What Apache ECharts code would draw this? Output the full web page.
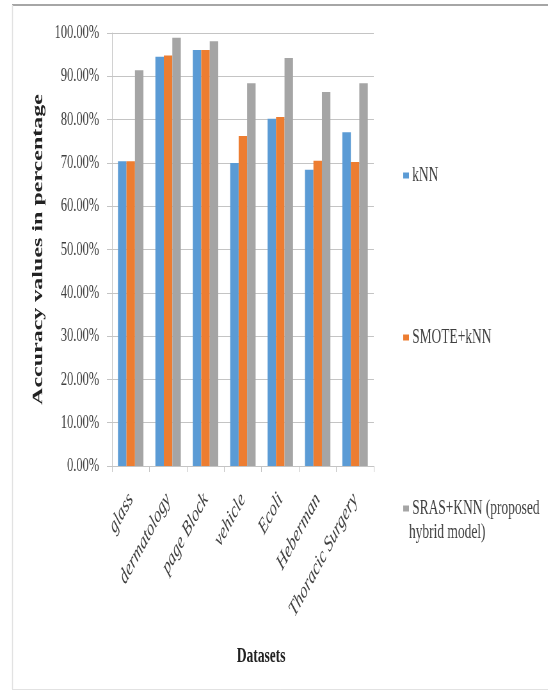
<!DOCTYPE html>
<html>
<head>
<meta charset="utf-8">
<script src="https://cdn.jsdelivr.net/npm/echarts@6/dist/echarts.min.js"></script>
<style>
  html, body { margin: 0; padding: 0; background: #ffffff; overflow: hidden; width: 548px; height: 691px; }
  /* The chart is laid out wide and condensed horizontally to fit the page. */
  #chart { width: 856px; height: 691px; transform: scaleX(0.64); transform-origin: 0 0; }
</style>
</head>
<body>
<div id="chart"></div>
<script>
// Datasets on the category axis
const datasets = ['glass', 'dermatology', 'page Block', 'vehicle', 'Ecoli', 'Heberman', 'Thoracic Surgery'];

// Accuracy (%) per dataset for each classifier
const knnAcc = [70.4, 94.5, 96.1, 70.0, 80.2, 68.4, 77.1];
const smoteKnnAcc = [70.4, 94.8, 96.1, 76.2, 80.6, 70.5, 70.2];
const srasKnnAcc = [91.4, 98.9, 98.1, 88.4, 94.2, 86.4, 88.4];

// Series names
const seriesNames = ['kNN', 'SMOTE+kNN', 'SRAS+KNN (proposed hybrid model)'];

// Y-axis ticks (%)
const yMin = 0, yMax = 100, yStep = 10;

const serif = '"Liberation Serif", "Times New Roman", serif';
const textColor = '#404040';
const gridColor = '#c4c4c4';

const chart = echarts.init(document.getElementById('chart'), null, { renderer: 'canvas' });

function bar(name, data, color) {
  return {
    name: name,
    type: 'bar',
    data: data,
    barGap: '0%',
    barCategoryGap: '32%',
    itemStyle: { color: color }
  };
}

const legendBase = {
  orient: 'vertical',
  left: 625,
  icon: 'rect',
  itemWidth: 9,
  itemHeight: 6,
  textStyle: { fontFamily: serif, fontSize: 21, color: textColor }
};

chart.setOption({
  animation: false,
  backgroundColor: '#ffffff',
  grid: { left: 175, right: 272, top: 33, bottom: 225 },
  legend: [
    Object.assign({}, legendBase, { top: 160, data: [seriesNames[0]] }),
    Object.assign({}, legendBase, { top: 322, data: [seriesNames[1]] }),
    Object.assign({}, legendBase, {
      top: 493,
      data: [seriesNames[2]],
      formatter: function () { return 'SRAS+KNN (proposed'; }
    })
  ],
  xAxis: {
    type: 'category',
    data: datasets,
    name: 'Datasets',
    nameLocation: 'middle',
    nameGap: 180,
    nameTextStyle: {
      fontFamily: serif, fontSize: 21, fontWeight: 'bold', color: '#222',
      padding: [0, 0, 0, 57]
    },
    axisLine: { lineStyle: { color: gridColor } },
    axisTick: { show: true, length: 6, lineStyle: { color: gridColor } },
    axisLabel: {
      rotate: 50,
      margin: 30,
      interval: 0,
      fontFamily: serif,
      fontStyle: 'italic',
      fontSize: 22,
      color: textColor
    }
  },
  yAxis: {
    type: 'value',
    min: yMin,
    max: yMax,
    interval: yStep,
    name: 'Accuracy values in percentage',
    nameLocation: 'middle',
    nameGap: 103,
    nameTextStyle: { fontFamily: serif, fontSize: 24, fontWeight: 'bold', color: '#222' },
    axisLine: { show: true, lineStyle: { color: gridColor } },
    axisTick: { show: true, length: 8, lineStyle: { color: gridColor } },
    splitLine: { lineStyle: { color: gridColor } },
    axisLabel: {
      margin: 20,
      fontFamily: serif,
      fontSize: 19.5,
      color: textColor,
      formatter: function (v) { return v.toFixed(2) + '%'; }
    }
  },
  series: [
    bar(seriesNames[0], knnAcc, '#5B9BD5'),
    bar(seriesNames[1], smoteKnnAcc, '#ED7D31'),
    bar(seriesNames[2], srasKnnAcc, '#A5A5A5')
  ],
  graphic: [
    // outer frame
    { type: 'line', shape: { x1: 19, y1: 5, x2: 856, y2: 5 }, style: { stroke: '#a6a6a6', lineWidth: 2 } },
    { type: 'line', shape: { x1: 19.5, y1: 5, x2: 19.5, y2: 689 }, style: { stroke: '#e2e2e2', lineWidth: 1.5 } },
    { type: 'line', shape: { x1: 19, y1: 689.5, x2: 856, y2: 689.5 }, style: { stroke: '#e2e2e2', lineWidth: 1 } },
    // continuation line of the third legend entry
    {
      type: 'text', left: 639, top: 522,
      style: { text: 'hybrid model)', font: '21px ' + serif, fill: textColor }
    }
  ]
});
</script>
</body>
</html>
